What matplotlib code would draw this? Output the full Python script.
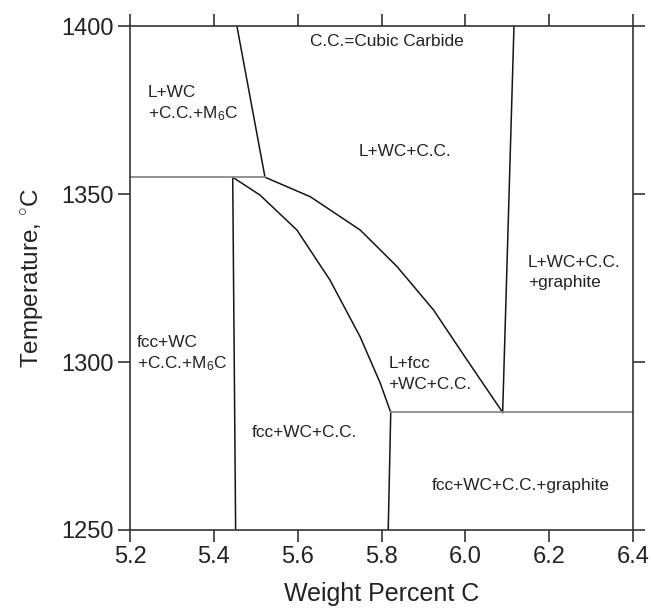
import numpy as np
from matplotlib import rcParams
from matplotlib import pyplot as plt

# phase boundaries (wt% C, temperature C)
b1_c = [5.455, 5.522]            # L+WC+C.C.+M6C / L+WC+C.C.
b1_t = [1400, 1355]
b2_c = [5.522, 5.630, 5.749, 5.837, 5.924, 6.004, 6.089]
b2_t = [1355, 1349.2, 1339.3, 1328.4, 1315.5, 1300.6, 1285]
b3_c = [6.089, 6.116]            # graphite boundary
b3_t = [1285, 1400]
b4_c = [5.445, 5.510, 5.598, 5.677, 5.749, 5.797, 5.822]
b4_t = [1355, 1349.7, 1339.3, 1324.4, 1307.5, 1293.7, 1285]
b5_c = [5.445, 5.452]            # M6C boundary
b5_t = [1355, 1250]
b6_c = [5.822, 5.816]
b6_t = [1285, 1250]

# invariant temperatures
iso1_c = [5.2, 5.522]
iso1_t = [1355, 1355]
iso2_c = [5.822, 6.4]
iso2_t = [1285, 1285]

# region labels: x, baseline temperature, text, alignment
labels = [
    (5.812, 1394.0, "C.C.=Cubic Carbide", "center"),
    (5.243, 1379.0, "L+WC", "left"),
    (5.243, 1372.5, "+C.C.+M$_6$C", "left"),
    (5.856, 1361.3, "L+WC+C.C.", "center"),
    (6.149, 1328.2, "L+WC+C.C.", "left"),
    (6.149, 1322.4, "+graphite", "left"),
    (5.216, 1304.4, "fcc+WC", "left"),
    (5.216, 1298.1, "+C.C.+M$_6$C", "left"),
    (5.816, 1298.1, "L+fcc", "left"),
    (5.816, 1291.9, "+WC+C.C.", "left"),
    (5.49, 1277.6, "fcc+WC+C.C.", "left"),
    (5.92, 1261.9, "fcc+WC+C.C.+graphite", "left"),
]

rcParams["font.family"] = ["Liberation Sans", "DejaVu Sans"]
rcParams["mathtext.fontset"] = "custom"
rcParams["mathtext.rm"] = "Liberation Sans"
rcParams["mathtext.it"] = "Liberation Sans"

fig = plt.figure(figsize=(6.51, 6.08), dpi=100)
ax = fig.add_axes([0.1997, 0.1283, 0.7727, 0.8289])

for c, t in [(b1_c, b1_t), (b2_c, b2_t), (b3_c, b3_t), (b4_c, b4_t),
             (b5_c, b5_t), (b6_c, b6_t)]:
    ax.plot(c, t, color="#151515", lw=1.1)
for c, t in [(iso1_c, iso1_t), (iso2_c, iso2_t)]:
    ax.plot(c, t, color="#8a8a8a", lw=1.3)

for x, y, s, ha in labels:
    ax.text(x, y, s, ha=ha, va="baseline", fontsize=12.4, color="#222222")

ax.set_xlim(5.2, 6.4)
ax.set_ylim(1250, 1400)
ax.set_xticks(np.arange(5.2, 6.41, 0.2))
ax.set_yticks([1250, 1300, 1350, 1400])
ax.xaxis.set_major_formatter(plt.FormatStrFormatter("%.1f"))
ax.tick_params(direction="out", length=8.5, width=1.2, color="#333333",
               labelsize=17, top=True, right=True, pad=3, labelcolor="#222222")
for sp in ax.spines.values():
    sp.set_color("#333333")
    sp.set_linewidth(1.2)

ax.set_xlabel("Weight Percent C", fontsize=18, color="#222222", labelpad=10)
ax.set_ylabel("Temperature, $^{\\circ}$C", fontsize=17.5, color="#222222", labelpad=12)

fig.savefig("out.png", dpi=100)
